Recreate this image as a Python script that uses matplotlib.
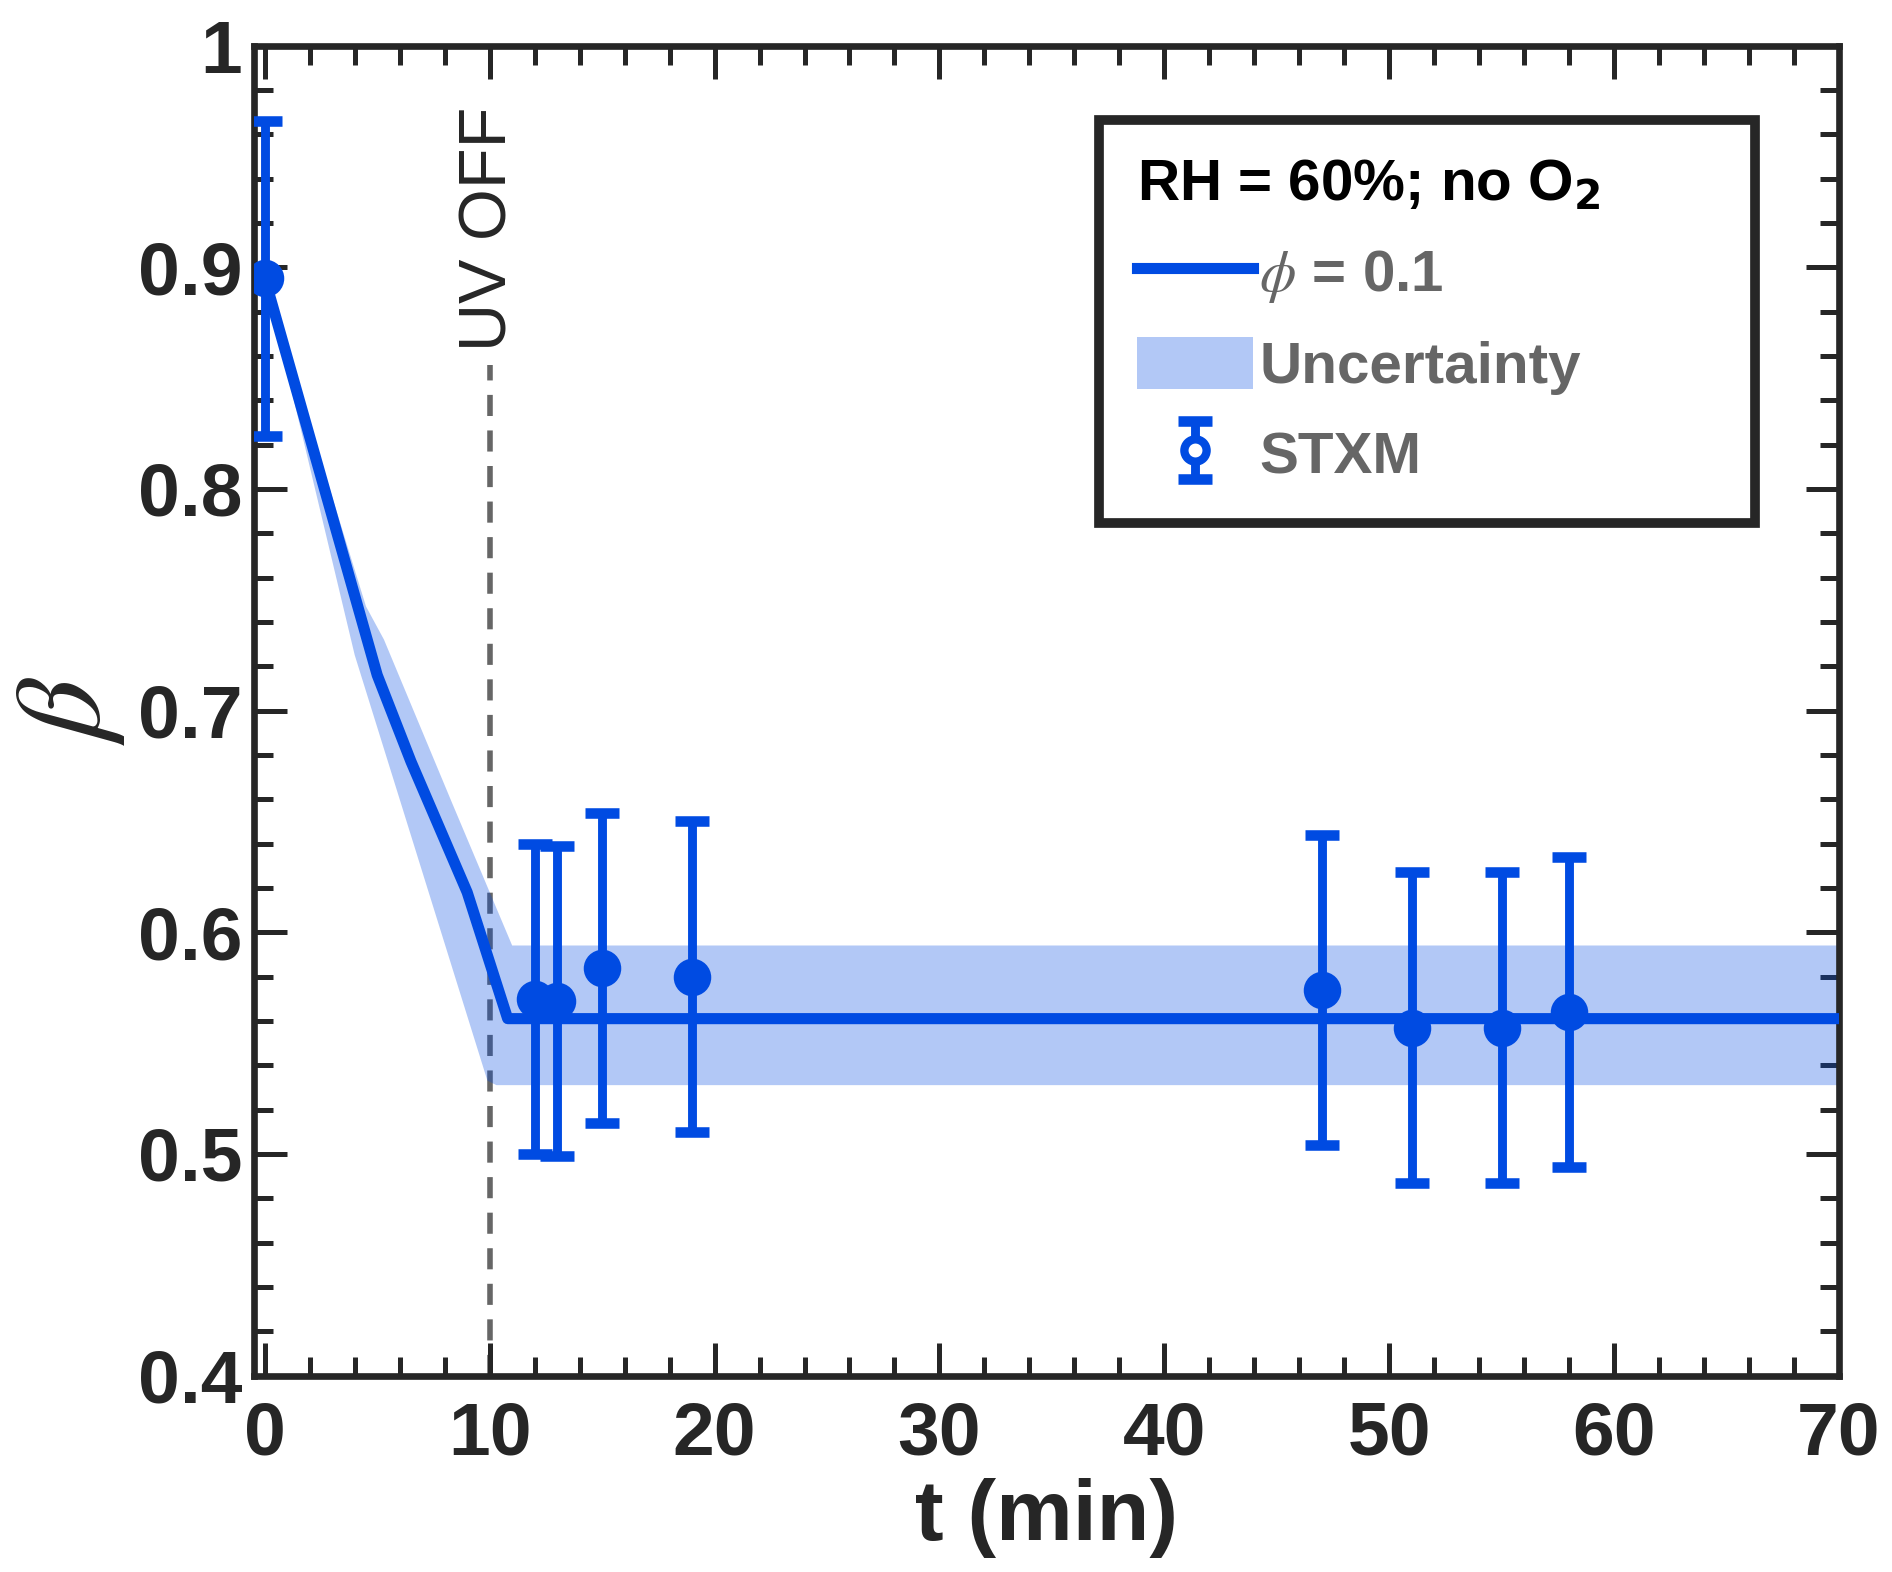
import matplotlib
matplotlib.use("Agg")
import matplotlib.pyplot as plt
from matplotlib.lines import Line2D
from matplotlib.patches import Patch
from matplotlib.ticker import MultipleLocator
from matplotlib.legend_handler import HandlerErrorbar

# STXM measurements
stxm_t = [0, 12, 13, 15, 19, 47, 51, 55, 58]
stxm_beta = [0.895, 0.570, 0.569, 0.584, 0.580, 0.574, 0.557, 0.557, 0.564]
stxm_err = [0.071, 0.070, 0.070, 0.070, 0.070, 0.070, 0.070, 0.070, 0.070]

# model, phi = 0.1
model_t = [0, 5.0, 6.5, 9.0, 10.8, 70]
model_beta = [0.895, 0.716, 0.677, 0.618, 0.561, 0.561]

# uncertainty envelope
upper_t = [0, 4.5, 5.3, 8.3, 11.0, 70]
upper_beta = [0.895, 0.747, 0.732, 0.659, 0.594, 0.594]
lower_t = [0, 4.0, 9.9, 10.3, 70]
lower_beta = [0.895, 0.725, 0.533, 0.531, 0.531]

uv_off_t = 10
yticks = [0.4, 0.5, 0.6, 0.7, 0.8, 0.9, 1.0]
ytick_labels = ["0.4", "0.5", "0.6", "0.7", "0.8", "0.9", "1"]

BLUE = "#004be2"
DARK = "#262626"
GREY = "#666666"

plt.rcParams["font.family"] = ["Liberation Sans", "DejaVu Sans"]
plt.rcParams["mathtext.fontset"] = "stix"

fig = plt.figure(figsize=(9.46, 7.86), dpi=200)
ax = fig.add_axes([0.134, 0.125, 0.838, 0.846])

ax.plot([uv_off_t, uv_off_t], [0.4, 0.856], color=GREY, lw=2.0,
        dashes=(3.8, 2.6), zorder=1)
ax.fill(upper_t + lower_t[::-1], upper_beta + lower_beta[::-1],
        color=BLUE, alpha=0.3, lw=0, zorder=2)
ax.plot(model_t, model_beta, color=BLUE, lw=4.0, zorder=3)
eb = ax.errorbar(stxm_t, stxm_beta, yerr=stxm_err, fmt="o", color=BLUE,
                 ms=12.5, elinewidth=3.2, capsize=6, capthick=3.8, zorder=4)

ax.text(uv_off_t, 0.862, "UV OFF", rotation=90, ha="center", va="bottom",
        fontsize=24, color=DARK)

ax.set_xlim(-0.5, 70)
ax.set_ylim(0.4, 1.0)
ax.xaxis.set_major_locator(MultipleLocator(10))
ax.xaxis.set_minor_locator(MultipleLocator(2))
ax.set_yticks(yticks)
ax.set_yticklabels(ytick_labels)
ax.yaxis.set_minor_locator(MultipleLocator(0.02))
ax.tick_params(which="both", direction="in", top=True, right=True,
               color=DARK, width=1.8)
ax.tick_params(which="major", length=12)
ax.tick_params(which="minor", length=7)
ax.tick_params(axis="x", pad=9)
ax.tick_params(axis="y", pad=4)
for lab in ax.get_xticklabels() + ax.get_yticklabels():
    lab.set_fontsize(27)
    lab.set_fontweight("bold")
    lab.set_color(DARK)
for sp in ax.spines.values():
    sp.set_linewidth(2.4)
    sp.set_color(DARK)

ax.set_xlabel("t (min)", fontsize=31, fontweight="bold", color=DARK, labelpad=3)
ax.set_ylabel(r"$\beta$", fontsize=44, color=DARK, labelpad=4)


def hollow_marker(legend_handle, orig_handle):
    legend_handle.update_from(orig_handle)
    if isinstance(legend_handle, Line2D) and legend_handle.get_marker() == "o":
        legend_handle.set_markerfacecolor("white")
        legend_handle.set_markersize(8)
        legend_handle.set_markeredgewidth(3)


handles = [Line2D([], [], color=BLUE, lw=4.0),
           Patch(facecolor=BLUE, alpha=0.3, edgecolor="none"),
           eb]
labels = [r"$\phi$ = 0.1", "Uncertainty", "STXM"]
leg = ax.legend(handles, labels, title=r"RH = 60%; no O$_\mathbf{2}$",
                loc="upper left", bbox_to_anchor=(0.533, 0.637, 0.414, 0.307),
                mode="expand", borderaxespad=0, frameon=True, fancybox=False,
                edgecolor=DARK, framealpha=1, fontsize=21,
                title_fontsize=21, handlelength=2.0, handleheight=1.0,
                handletextpad=0.1, labelspacing=0.55, borderpad=0.65,
                alignment="left",
                handler_map={type(eb): HandlerErrorbar(update_func=hollow_marker)})
leg.get_frame().set_linewidth(3.5)
title = leg.get_title()
title.set_fontweight("bold")
title.set_color("black")
title.set_math_fontfamily("dejavusans")
for txt in leg.get_texts():
    txt.set_color(GREY)
    txt.set_fontweight("bold")

fig.savefig("out.png", dpi=200, facecolor="white")
